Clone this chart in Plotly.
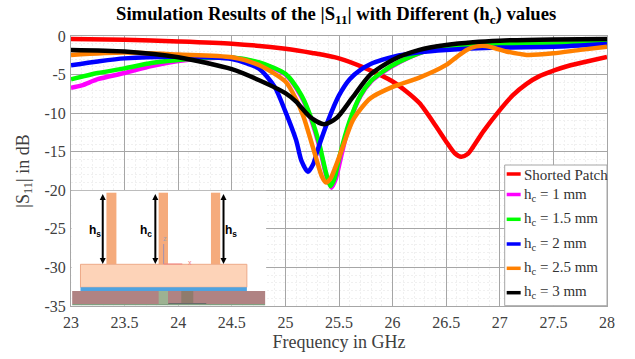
import plotly.graph_objects as go

W, H = 635, 359
L, R, T, B = 70.5, 607.5, 36.0, 306.0

title_text = "Simulation Results of the |S<sub>11</sub>| with Different (h<sub>c</sub>) values"
x_title = "Frequency in GHz"
y_title = "|S<sub>11</sub>| in dB"
x_ticks = [23, 23.5, 24, 24.5, 25, 25.5, 26, 26.5, 27, 27.5, 28]
x_labels = ["23", "23.5", "24", "24.5", "25", "25.5", "26", "26.5", "27", "27.5", "28"]
y_ticks = [0, -5, -10, -15, -20, -25, -30, -35]
y_labels = ["0", "-5", "-10", "-15", "-20", "-25", "-30", "-35"]

names = ["Shorted Patch", "h<sub>c</sub> = 1 mm", "h<sub>c</sub> = 1.5 mm",
         "h<sub>c</sub> = 2 mm", "h<sub>c</sub> = 2.5 mm", "h<sub>c</sub> = 3 mm"]
colors = ["#ff0000", "#ff00ff", "#00ff00", "#0000ff", "#ff8000", "#000000"]

f_red = [23, 23.5, 24, 24.5, 25, 25.25, 25.5, 25.75, 26, 26.12, 26.25, 26.4, 26.5, 26.58, 26.64, 26.7, 26.75, 26.85, 27, 27.12, 27.25, 27.37, 27.5, 27.62, 27.75, 28]
s_red = [-0.4, -0.5, -0.7, -1.0, -1.65, -2.2, -2.9, -4.2, -5.9, -7.1, -8.7, -11.6, -13.7, -15.2, -15.65, -15.3, -14.4, -12.3, -9.6, -7.7, -6.2, -5.2, -4.5, -3.95, -3.5, -2.7]

f_mag = [23, 23.1, 23.25, 23.5, 23.75, 24, 24.25, 24.5, 24.75, 25, 25.15, 25.25, 25.32, 25.38, 25.43, 25.47, 25.52, 25.6, 25.7, 25.8, 25.9, 26, 26.13, 26.3, 26.5, 27, 27.5, 28]
s_mag = [-6.7, -6.4, -5.6, -4.8, -3.9, -3.25, -2.9, -2.8, -3.5, -5.0, -7.9, -11.2, -14.5, -18.0, -19.66, -18.5, -15.6, -11.2, -7.8, -5.9, -4.8, -3.9, -2.95, -2.0, -1.4, -1.1, -0.95, -0.85]

f_grn = [23, 23.25, 23.5, 23.75, 24, 24.25, 24.5, 24.75, 25, 25.15, 25.25, 25.32, 25.38, 25.42, 25.46, 25.5, 25.6, 25.7, 25.8, 25.9, 26, 26.13, 26.3, 26.5, 27, 27.5, 28]
s_grn = [-5.6, -4.8, -4.2, -3.5, -3.1, -2.85, -2.8, -3.4, -4.9, -7.7, -11.0, -14.2, -17.8, -19.45, -18.4, -15.9, -11.0, -7.7, -5.8, -4.7, -3.8, -2.9, -2.0, -1.4, -1.1, -1.0, -0.9]

f_blu = [23, 23.25, 23.5, 24, 24.5, 24.75, 24.9, 25, 25.1, 25.15, 25.21, 25.26, 25.3, 25.4, 25.5, 25.6, 25.7, 25.8, 25.9, 26, 26.25, 26.5, 27, 27.5, 28]
s_blu = [-3.8, -3.3, -2.9, -2.7, -3.0, -4.2, -6.6, -9.8, -13.5, -16.2, -17.6, -16.6, -14.8, -10.9, -7.7, -5.6, -4.4, -3.6, -3.1, -2.7, -2.1, -1.8, -1.5, -1.4, -1.05]

f_org = [23, 23.5, 24, 24.5, 24.75, 25, 25.1, 25.17, 25.29, 25.34, 25.38, 25.42, 25.48, 25.54, 25.63, 25.79, 26, 26.25, 26.5, 26.6, 26.69, 26.78, 26.87, 27.06, 27.25, 27.5, 27.75, 28]
s_org = [-2.45, -2.15, -2.4, -2.75, -3.75, -5.9, -8.2, -10.5, -16.0, -18.2, -19.0, -18.5, -16.5, -14.2, -10.9, -8.1, -6.6, -5.4, -3.75, -2.7, -1.8, -1.35, -1.3, -2.0, -2.45, -2.25, -1.8, -1.4]

f_blk = [23, 23.5, 24, 24.5, 24.75, 25, 25.1, 25.23, 25.36, 25.48, 25.63, 25.79, 26, 26.25, 26.5, 26.75, 27, 27.5, 28]
s_blk = [-1.8, -2.0, -2.75, -4.3, -5.7, -7.4, -8.5, -10.5, -11.45, -10.6, -7.9, -5.05, -3.1, -1.8, -1.17, -0.8, -0.6, -0.45, -0.4]

series = [(f_red, s_red), (f_mag, s_mag), (f_grn, s_grn), (f_blu, s_blu), (f_org, s_org), (f_blk, s_blk)]

SERIF = "Liberation Serif, Times New Roman, serif"
SANS = "Liberation Sans, Arial, sans-serif"
TXT = "#404040"
GRID = "#a6a6a6"


def px(x):
    return (x - L) / (R - L)


def py(y):
    return (B - y) / (B - T)


fig = go.Figure()
for (f, s), n, c in zip(series, names, colors):
    fig.add_trace(go.Scatter(x=f, y=s, mode="lines", name=n, showlegend=False,
                             line=dict(color=c, width=4.5, shape="spline", smoothing=0.7)))

shapes, annos = [], []


def rect(x0, y0, x1, y1, fill, line=None, lw=1):
    shapes.append(dict(type="rect", xref="paper", yref="paper", x0=px(x0), x1=px(x1), y0=py(y0), y1=py(y1),
                       fillcolor=fill, line=dict(color=line or fill, width=lw if line else 0), layer="above"))


def seg(x0, y0, x1, y1, color, w=1):
    shapes.append(dict(type="line", xref="paper", yref="paper", x0=px(x0), x1=px(x1), y0=py(y0), y1=py(y1),
                       line=dict(color=color, width=w), layer="above"))


def tri(x, tip, base):
    path = "M {} {} L {} {} L {} {} Z".format(px(x), py(tip), px(x - 3), py(base), px(x + 3), py(base))
    shapes.append(dict(type="path", xref="paper", yref="paper", path=path, fillcolor="#000000",
                       line=dict(width=0), layer="above"))


def text(x, y, s, size, color="#000000", font=SERIF, xanchor="center"):
    annos.append(dict(xref="paper", yref="paper", x=px(x), y=py(y), text=s, showarrow=False,
                      xanchor=xanchor, yanchor="middle", font=dict(family=font, size=size, color=color)))


def arrow(x, y0, y1):
    seg(x, y0 + 3, x, y1 - 3, "#000000", 2)
    tri(x, y0, y0 + 6)
    tri(x, y1, y1 - 6)


# inset picture of the structure
rect(71, 190.8, 266, 305.5, "#ffffff")
for x0, x1 in [(106, 116), (158.3, 167.7), (210.7, 220)]:
    rect(x0, 192.7, x1, 264.5, "#f5ab7c")
rect(80, 264.3, 246.7, 287.3, "#fdd3b8", "#eda988", 1)
rect(80, 287.3, 246.7, 291, "#4fa3e0")
rect(71.7, 291, 265, 304, "#b08383")
rect(71.7, 304, 265, 305.3, "#80a080")
rect(158.3, 291, 167.7, 304, "#9db292")
rect(181, 291, 193, 304, "#8f7b6c")
seg(168, 303.5, 206, 303.5, "#6a6a6a", 1)
seg(163.3, 264, 163.3, 244, "#a090b0", 1)
seg(163.3, 264, 182, 264, "#f08080", 1)
text(189.5, 262.5, "x", 7, "#f08080", SANS)
text(164.5, 238, "z", 7, "#a0a0b0", SANS)
for ax_x in (102.3, 155, 223.3):
    arrow(ax_x, 194, 264)
text(94.5, 231, "<b>h<sub>s</sub></b>", 12, "#000000", SANS)
text(146, 231, "<b>h<sub>c</sub></b>", 12, "#000000", SANS)
text(231, 231, "<b>h<sub>s</sub></b>", 12, "#000000", SANS)

# legend box
rect(505, 165, 607.5, 305.7, "#ffffff", "#a6a6a6", 1)
key_y = [174, 194.5, 219.3, 244, 268.3, 292.7]
text_y = [174.5, 194.5, 219, 243.5, 267.5, 292]
for yk, yt, n, c in zip(key_y, text_y, names, colors):
    seg(507, yk, 521, yk, c, 3.5)
    text(522, yt, n, 15, "#333333", SERIF, "left")

text(336, 15, "<b>" + title_text + "</b>", 18.7, "#000000")

fig.update_layout(
    width=W, height=H, autosize=False,
    margin=dict(l=L, r=W - R, t=T, b=H - B, pad=0, autoexpand=False),
    paper_bgcolor="#ffffff", plot_bgcolor="#ffffff",
    showlegend=False,
    font=dict(family=SERIF, color=TXT, size=16),
    shapes=shapes, annotations=annos,
    xaxis=dict(range=[23, 28], tickvals=x_ticks, ticktext=x_labels, ticks="", showline=True, mirror=True,
               linecolor=GRID, linewidth=1, gridcolor=GRID, gridwidth=1, zeroline=False, automargin=False,
               minor=dict(dtick=0.1, showgrid=True, gridcolor="#f0f0f0", griddash="2px,2px", gridwidth=1),
               tickfont=dict(size=16, color=TXT), ticklabelstandoff=2,
               title=dict(text=x_title, font=dict(size=18, color=TXT), standoff=5)),
    yaxis=dict(range=[-35, 0], tickvals=y_ticks, ticktext=y_labels, ticks="", showline=True, mirror=True,
               linecolor=GRID, linewidth=1, gridcolor=GRID, gridwidth=1, zeroline=False, automargin=False,
               minor=dict(dtick=1, showgrid=True, gridcolor="#f0f0f0", griddash="2px,2px", gridwidth=1),
               tickfont=dict(size=16, color=TXT), ticklabelstandoff=1,
               title=dict(text=y_title, font=dict(size=18, color=TXT), standoff=10)),
)
fig.write_html("out.html", config={"displayModeBar": False}, post_script="document.body.style.margin='0';")
